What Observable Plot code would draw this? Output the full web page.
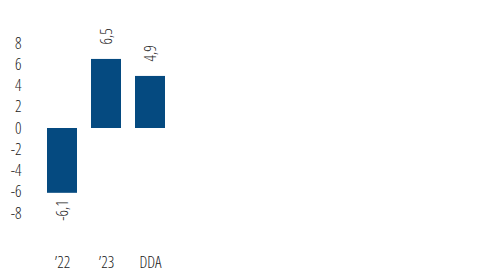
<!DOCTYPE html>
<html><head><meta charset="utf-8">
<script src="https://cdn.jsdelivr.net/npm/d3@7"></script>
<script src="https://cdn.jsdelivr.net/npm/@observablehq/plot@0.6"></script>
<style>
body{margin:0;background:#fff}
svg text{font-family:'Open Sans',sans-serif;font-stretch:85%;font-weight:300;font-size:16px}
</style>
</head><body><div id="chart"></div>
<script>
const categories = ["’22", "’23", "DDA"];
const values = [-6.1, 6.5, 4.9];
const yTicks = [-8, -6, -4, -2, 0, 2, 4, 6, 8];

const data = categories.map((c, i) => ({cat: c, v: values[i]}));
const fmt = v => v.toFixed(1).replace(".", ",");

const chart = Plot.plot({
  width: 480, height: 274,
  marginLeft: 24, marginBottom: 20, marginTop: 0, marginRight: 0,
  style: {color: "#222", background: "#fff"},
  x: {domain: categories, range: [40, 172], paddingInner: 0.32, paddingOuter: 0.16, label: null},
  y: {domain: [-8, 8], range: [213, 43], label: null},
  marks: [
    Plot.barY(data, {x: "cat", y: "v", fill: "#054a80"}),
    Plot.text(data.filter(d => d.v >= 0), {x: "cat", y: "v", text: d => fmt(d.v), rotate: -90, textAnchor: "start", dy: -15, fill: "#222"}),
    Plot.text(data.filter(d => d.v < 0), {x: "cat", y: "v", text: d => fmt(d.v), rotate: -90, textAnchor: "end", dy: 7, fill: "#222"}),
    Plot.axisY({ticks: yTicks, tickSize: 0, tickPadding: 3, tickFormat: d => String(d), label: null}),
    Plot.axisX({tickSize: 0, tickPadding: 2, label: null})
  ]
});
document.getElementById("chart").appendChild(chart);
</script>
</body></html>
